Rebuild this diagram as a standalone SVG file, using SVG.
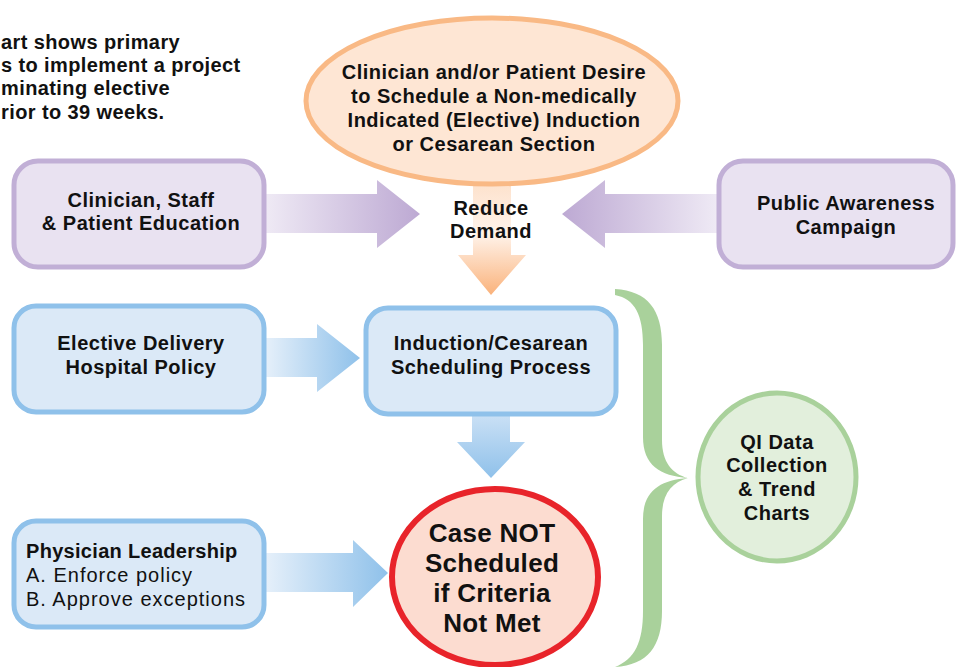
<svg xmlns="http://www.w3.org/2000/svg" width="956" height="667" viewBox="0 0 956 667">
<style>
text{font-family:"Liberation Sans",Arial,sans-serif;fill:#111;}
.b{font-weight:700;font-size:20px;letter-spacing:0.5px;text-anchor:middle;}
.intro{font-weight:700;font-size:20px;letter-spacing:0.4px;}
.purple{fill:#e9e2f1;stroke:#c1afd6;stroke-width:5;}
.blue{fill:#dbe9f7;stroke:#8fc1ea;stroke-width:5;}
.big{font-weight:700;font-size:26px;letter-spacing:0.3px;text-anchor:middle;}
.reg{font-size:20px;letter-spacing:1px;}
.lead{font-weight:700;font-size:20px;letter-spacing:0.3px;}
</style>
<defs>
<linearGradient id="gPR" x1="0" y1="0" x2="1" y2="0"><stop offset="0" stop-color="#efeaf5"/><stop offset="1" stop-color="#bda9d3"/></linearGradient>
<linearGradient id="gPL" x1="1" y1="0" x2="0" y2="0"><stop offset="0" stop-color="#efeaf5"/><stop offset="1" stop-color="#bda9d3"/></linearGradient>
<linearGradient id="gBR" x1="0" y1="0" x2="1" y2="0"><stop offset="0" stop-color="#e6f0fa"/><stop offset="1" stop-color="#8fc1ea"/></linearGradient>
<linearGradient id="gBD" x1="0" y1="0" x2="0" y2="1"><stop offset="0" stop-color="#c9e0f5"/><stop offset="1" stop-color="#8fc1ea"/></linearGradient>
<linearGradient id="gOD" x1="0" y1="0" x2="0" y2="1"><stop offset="0" stop-color="#fde2cd"/><stop offset="0.45" stop-color="#fff3ea"/><stop offset="1" stop-color="#fab27b"/></linearGradient>
</defs>

<g id="intro">
<text class="intro" x="1" y="49">art shows primary</text>
<text class="intro" x="1" y="72">s to implement a project</text>
<text class="intro" x="1" y="95">minating elective</text>
<text class="intro" x="1" y="119">rior to 39 weeks.</text>
</g>

<g id="connectors">
<polygon id="arrow-education" fill="url(#gPR)" points="265,194 377,194 377,180 420,214 377,248 377,233 265,233"/>
<polygon id="arrow-campaign" fill="url(#gPL)" points="718,194 605,194 605,180 562,214 605,248 605,233 718,233"/>
<polygon id="arrow-demand" fill="url(#gOD)" points="473,184 511,184 511,255 526,255 491,295 458,255 473,255"/>
<polygon id="arrow-policy" fill="url(#gBR)" points="265,338 317,338 317,324 360,358 317,392 317,377 265,377"/>
<polygon id="arrow-process" fill="url(#gBD)" points="472,416 510,416 510,442 525,442 491,478 457,442 472,442"/>
<polygon id="arrow-leadership" fill="url(#gBR)" points="265,553 353,553 353,540 388,573 353,607 353,592 265,592"/>
</g>

<g id="desire">
<ellipse cx="492" cy="101" rx="186" ry="83" fill="#fee6d4" stroke="#f9b985" stroke-width="5"/>
<text class="b" x="494" y="79">Clinician and/or Patient Desire</text>
<text class="b" x="494" y="103">to Schedule a Non-medically</text>
<text class="b" x="494" y="127">Indicated (Elective) Induction</text>
<text class="b" x="494" y="151">or Cesarean Section</text>
</g>

<g id="reduce-demand">
<text class="b" x="491" y="215">Reduce</text>
<text class="b" x="491" y="238">Demand</text>
</g>

<g id="education">
<rect class="purple" x="14" y="161" width="250" height="106" rx="24"/>
<text class="b" x="141" y="207">Clinician, Staff</text>
<text class="b" x="141" y="230">&amp; Patient Education</text>
</g>

<g id="campaign">
<rect class="purple" x="719" y="161" width="234" height="106" rx="24"/>
<text class="b" x="846" y="210">Public Awareness</text>
<text class="b" x="846" y="234">Campaign</text>
</g>

<g id="policy">
<rect class="blue" x="14" y="306" width="250" height="106" rx="22"/>
<text class="b" x="141" y="350">Elective Delivery</text>
<text class="b" x="141" y="374">Hospital Policy</text>
</g>

<g id="process">
<rect class="blue" x="366" y="308" width="250" height="106" rx="22"/>
<text class="b" x="491" y="350">Induction/Cesarean</text>
<text class="b" x="491" y="374">Scheduling Process</text>
</g>

<g id="leadership">
<rect class="blue" x="14" y="521" width="250" height="106" rx="22"/>
<text class="lead" x="26" y="558">Physician Leadership</text>
<text class="reg" x="26" y="582">A. Enforce policy</text>
<text class="reg" x="26" y="606">B. Approve exceptions</text>
</g>

<g id="outcome">
<ellipse cx="495" cy="577" rx="103" ry="88" fill="#fcdcd0" stroke="#e8242a" stroke-width="6"/>
<text class="big" x="492" y="542">Case NOT</text>
<text class="big" x="492" y="572">Scheduled</text>
<text class="big" x="492" y="602">if Criteria</text>
<text class="big" x="492" y="632">Not Met</text>
</g>

<g id="brace">
<path fill="#a9d19b" d="M615,289 C648,291 662,310 662,345 L662,440 C662,462 672,474 688,478 C672,482 662,494 662,516 L662,611 C662,646 648,665 615,667 C635,659 643,642 643,611 L643,519 C643,491 660,480 688,478 C660,476 643,465 643,437 L643,345 C643,315 635,299 615,295 Z"/>
</g>

<g id="qi-data">
<ellipse cx="777" cy="477" rx="79" ry="84" fill="#e2efdc" stroke="#a9d19b" stroke-width="5"/>
<text class="b" x="777" y="449">QI Data</text>
<text class="b" x="777" y="472">Collection</text>
<text class="b" x="777" y="496">&amp; Trend</text>
<text class="b" x="777" y="520">Charts</text>
</g>
</svg>
